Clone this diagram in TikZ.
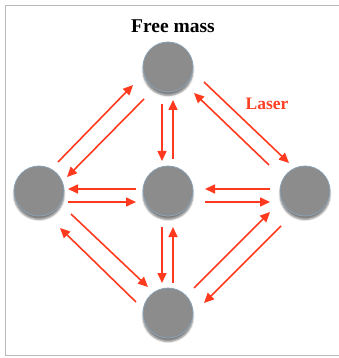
\documentclass[tikz,border=0pt]{standalone}
\usepackage{fontspec}
\setmainfont{Liberation Serif}
\usetikzlibrary{arrows.meta,shadows.blur}
\definecolor{arrred}{HTML}{FF3A1E}
\definecolor{lasred}{HTML}{FF4226}
\definecolor{massgray}{HTML}{8C8C8C}
\definecolor{massedge}{HTML}{8AA2B6}
\begin{document}
\begin{tikzpicture}[x=1pt,y=-1pt,
  mass/.style={circle,minimum size=50pt,inner sep=0pt,fill=massgray,draw=massedge,line width=0.8pt,
    blur shadow={shadow xshift=0pt,shadow yshift=-3.5pt,shadow blur steps=5,shadow blur radius=1.8pt,shadow opacity=50}},
  arr/.style={draw=arrred,line width=1.6pt,-{Triangle[length=10pt,width=9pt,fill=arrred]}}]
\useasboundingbox (0,0) rectangle (338,358);
\draw[gray!55,line width=0.8pt] (340,5.5) -- (5.5,5.5) -- (5.5,355) -- (340,355);
\node[mass] (T) at (168,67) {};
\node[mass] (L) at (39,191) {};
\node[mass] (M) at (168,191) {};
\node[mass] (R) at (305,191) {};
\node[mass] (B) at (168,313) {};
\node[font=\fontsize{19.5}{22}\selectfont\bfseries] (title) at (173,26) {Free mass};
\node[font=\fontsize{17.5}{21}\selectfont\bfseries,text=lasred] (laser) at (267,104) {Laser};
% top-left
\draw[arr] ([shift={(19,-29)}]L.center) -- ([shift={(-35,18)}]T.center);
\draw[arr] ([shift={(-24,32)}]T.center) -- ([shift={(28,-14)}]L.center);
% top-middle
\draw[arr] ([shift={(-6,37)}]T.center) -- ([shift={(-6,-30)}]M.center);
\draw[arr] ([shift={(5,-32)}]M.center) -- ([shift={(5,33)}]T.center);
% top-right
\draw[arr] ([shift={(36,15)}]T.center) -- ([shift={(-16,-28)}]R.center);
\draw[arr] ([shift={(-36,-26)}]R.center) -- ([shift={(26,26)}]T.center);
% middle-left
\draw[arr] ([shift={(-32,-2)}]M.center) -- ([shift={(29,-2)}]L.center);
\draw[arr] ([shift={(29,11)}]L.center) -- ([shift={(-32,11)}]M.center);
% middle-right
\draw[arr] ([shift={(-35,-2)}]R.center) -- ([shift={(37,-2)}]M.center);
\draw[arr] ([shift={(37,11)}]M.center) -- ([shift={(-35,11)}]R.center);
% bottom-middle
\draw[arr] ([shift={(-6,36)}]M.center) -- ([shift={(-6,-30)}]B.center);
\draw[arr] ([shift={(5,-30)}]B.center) -- ([shift={(5,36)}]M.center);
% bottom-left
\draw[arr] ([shift={(32,23)}]L.center) -- ([shift={(-20,-26)}]B.center);
\draw[arr] ([shift={(-32,-11)}]B.center) -- ([shift={(21,37)}]L.center);
% bottom-right
\draw[arr] ([shift={(26,-25)}]B.center) -- ([shift={(-35,21)}]R.center);
\draw[arr] ([shift={(-24,35)}]R.center) -- ([shift={(36,-10)}]B.center);
\end{tikzpicture}
\end{document}
